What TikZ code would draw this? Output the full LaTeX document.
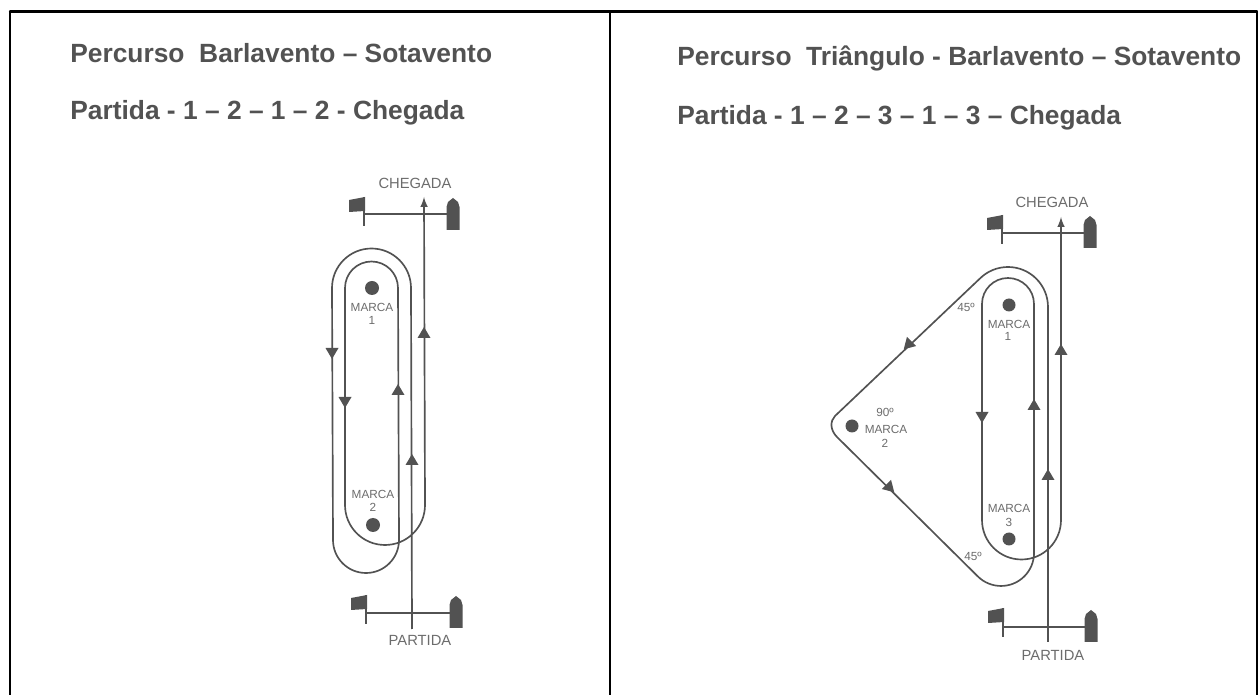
\documentclass[tikz,border=0pt]{standalone}
\usepackage{fontspec}
\setmainfont{Liberation Sans}
\usepackage{xcolor}
\usepackage{tkz-euclide}
\usetikzlibrary{arrows, calc}
\definecolor{scan}{gray}{0.32}
\tikzset{
    course/.style={line width=0.95pt, color=scan},
    title/.style={anchor=west, inner sep=0pt, font=\bfseries\fontsize{15}{17}\selectfont, text=scan},
    tag/.style={inner sep=0pt, font=\fontsize{8.4}{10}\selectfont, text=scan!85},
    smalltag/.style={inner sep=0pt, font=\fontsize{6.7}{8}\selectfont, text=scan!85},
    tri/.pic={\fill[scan] (-6.5,5) -- (6.5,5) -- (0,-6) -- cycle;},
    flag/.pic={\fill[scan] (-15,3) -- (1,0) -- (1,14) -- (-15,15) -- cycle;
        \draw[course] (0,0) -- (0,29);},
    boat/.pic={\fill[scan] (0,0) -- (5,4) -- (6.5,9) -- (6.5,32) -- (-6.5,32) -- (-6.5,9) -- (-5,4) -- cycle;},
}
\begin{document}
\begin{tikzpicture}[x=0.02cm,y=-0.02cm]
    \useasboundingbox (0,0) rectangle (1258,695);
    % frame
    \tkzDefPoint(10,11.5){o_1}
    \tkzDefPoint(1257,11.5){o_2}
    \tkzDefPoint(10,695){o_3}
    \tkzDefPoint(1257,695){o_4}
    \tkzDefPoint(610,11.5){o_5}
    \tkzDefPoint(610,695){o_6}
    \tkzDrawSegments[line width=1.2pt, color=black](o_1,o_2 o_1,o_3 o_2,o_4 o_5,o_6)
    % left course
    \node[title] (t_1) at (70,53) {Percurso\ \ Barlavento – Sotavento};
    \node[title] (t_2) at (70,113) {Partida - 1 – 2 – 1 – 2 - Chegada};
    \tkzDefPoint(364,214){a_1}
    \tkzDefPoint(447,214){a_2}
    \tkzDefPoint(366,613){a_3}
    \tkzDefPoint(450,613){a_4}
    \tkzDefPoint(412,629){s_1}
    \tkzDefPoint(411,288){s_2}
    \tkzDefPoint(333,540){s_3}
    \tkzDefPoint(398,540){s_4}
    \tkzDefPoint(345,505){s_5}
    \tkzDefPoint(424,197){s_6}
    \tkzDrawSegments[course](a_1,a_2 a_3,a_4)
    \draw[course,-latex] (s_1) -- (s_2) arc[start angle=0, end angle=-180, radius=39.5]
        -- (s_3) arc[start angle=180, end angle=0, radius=33]
        -- ($(s_4)+(0,-252)$) arc[start angle=0, end angle=-180, radius=26.5]
        -- (s_5) arc[start angle=180, end angle=0, radius=40]
        -- (s_6);
    \pic at (364,197) {flag};
    \pic at (366,595) {flag};
    \pic at (453,198) {boat};
    \pic at (456,596) {boat};
    \pic at (424,333) {tri};
    \pic at (412,460) {tri};
    \pic at (398,390) {tri};
    \pic[rotate=180] at (332,353) {tri};
    \pic[rotate=180] at (345,402) {tri};
    \fill[scan] (372,288) circle (7);
    \fill[scan] (373,525) circle (7);
    \node[smalltag] (m_1) at (372,307) {MARCA};
    \node[smalltag] (n_1) at (372,320) {1};
    \node[smalltag] (m_2) at (373,494) {MARCA};
    \node[smalltag] (n_2) at (373,507) {2};
    \node[tag] (c_1) at (415,183) {CHEGADA};
    \node[tag] (p_1) at (420,640) {PARTIDA};
    % right course
    \node[title] (t_3) at (677,58) {Percurso\ \ Triângulo - Barlavento – Sotavento};
    \node[title] (t_4) at (677,118) {Partida - 1 – 2 – 3 – 1 – 3 – Chegada};
    \tkzDefPoint(1002,233){b_1}
    \tkzDefPoint(1084,233){b_2}
    \tkzDefPoint(1003,627){b_3}
    \tkzDefPoint(1085,627){b_4}
    \tkzDefPoint(1048,642){r_1}
    \tkzDefPoint(1048,307){r_2}
    \tkzDefPoint(835,416){r_3}
    \tkzDefPoint(837,437){r_4}
    \tkzDefPoint(977.7,576.3){r_5}
    \tkzDefPoint(1034,304){r_6}
    \tkzDefPoint(982,520){r_7}
    \tkzDefPoint(1061,217){r_8}
    \tkzDrawSegments[course](b_1,b_2 b_3,b_4)
    \draw[course,-latex] (r_1) -- (r_2) arc[start angle=0, end angle=-135, radius=40]
        -- (r_3) .. controls (830,421) and (830,430) .. (r_4)
        -- (r_5) arc[start angle=135, end angle=0, radius=33]
        -- (r_6) arc[start angle=0, end angle=-180, radius=26]
        -- (r_7) arc[start angle=180, end angle=0, radius=39.5]
        -- (r_8);
    \pic at (1002,215) {flag};
    \pic at (1003,608) {flag};
    \pic at (1090,216) {boat};
    \pic at (1091,610) {boat};
    \pic at (1061,350) {tri};
    \pic at (1048,475) {tri};
    \pic at (1034,405) {tri};
    \pic[rotate=180] at (982,417) {tri};
    \pic[rotate=135] at (908,345) {tri};
    \pic[rotate=225] at (890,488) {tri};
    \fill[scan] (1009,305) circle (6.5);
    \fill[scan] (852,426) circle (6.5);
    \fill[scan] (1009,539) circle (6.5);
    \node[smalltag] (m_3) at (1009,324) {MARCA};
    \node[smalltag] (n_3) at (1008,336) {1};
    \node[smalltag] (m_4) at (886,429) {MARCA};
    \node[smalltag] (n_4) at (885,443) {2};
    \node[smalltag] (m_5) at (1009,508) {MARCA};
    \node[smalltag] (n_5) at (1009,522) {3};
    \node[smalltag] (g_1) at (966,307) {45º};
    \node[smalltag] (g_2) at (885,412) {90º};
    \node[smalltag] (g_3) at (973,556) {45º};
    \node[tag] (c_2) at (1052,202) {CHEGADA};
    \node[tag] (p_2) at (1053,655) {PARTIDA};
\end{tikzpicture}
\end{document}
